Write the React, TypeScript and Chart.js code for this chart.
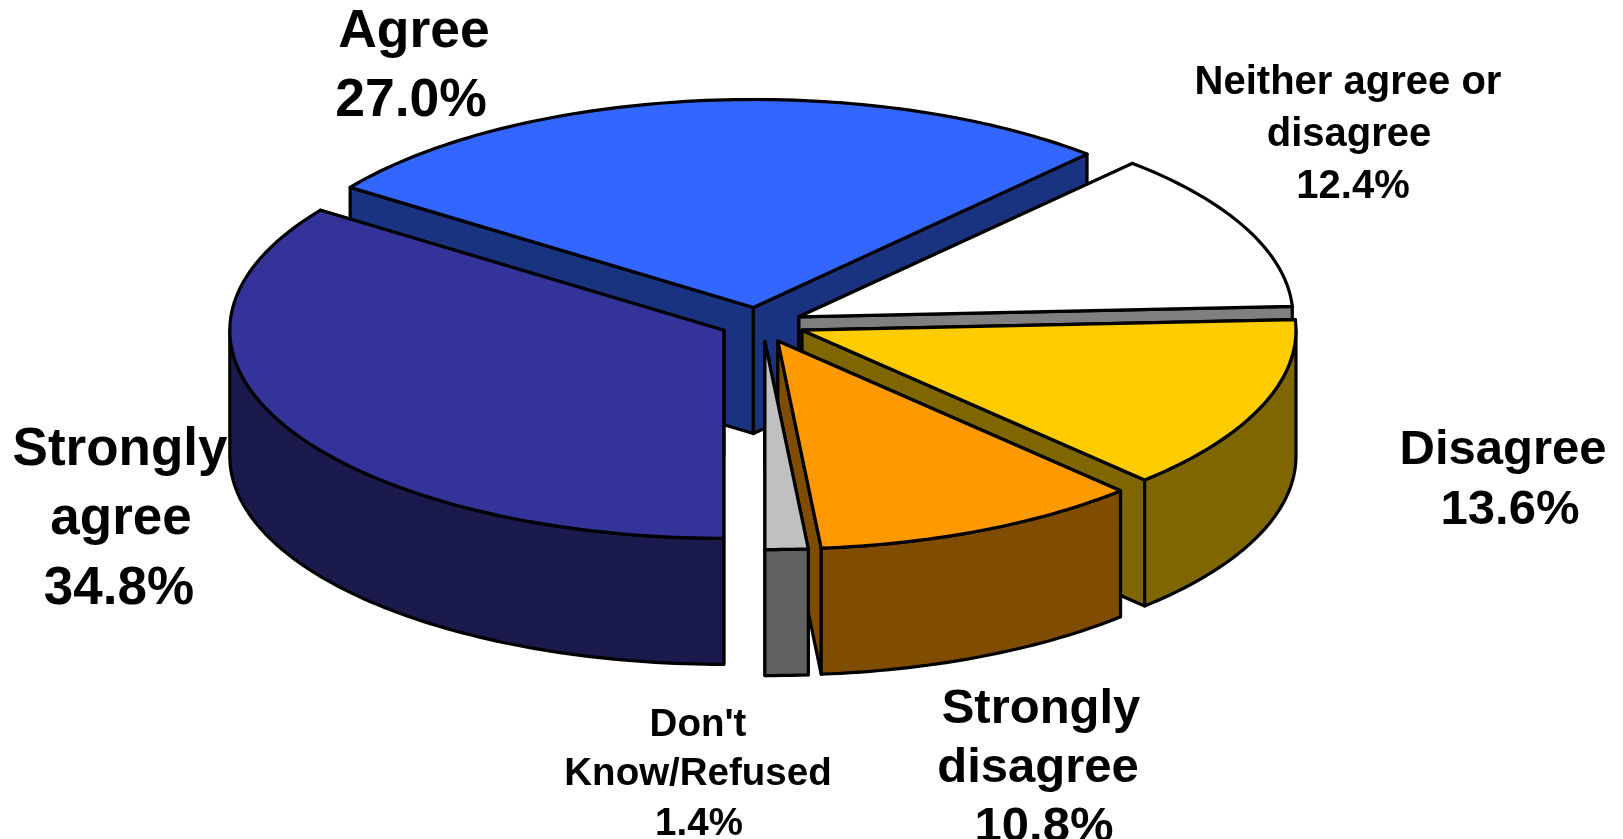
import React, { useEffect, useRef } from "react";
import { Chart, registerables } from "chart.js";

Chart.register(...registerables);

const categories = ["Strongly agree", "Agree", "Neither agree or disagree", "Disagree", "Strongly disagree", "Don't Know/Refused"];
const percentages = [34.8, 27.0, 12.4, 13.6, 10.8, 1.4];

const topColors = ["#333399", "#3366FF", "#FFFFFF", "#FFCC00", "#FF9900", "#C0C0C0"];
const sideColors = ["#1A1A4D", "#1A3380", "#808080", "#806600", "#804D00", "#606060"];

// painter's order, back to front
const paintOrder = [1, 2, 3, 4, 5, 0];

const PIE = { cx: 762, cy: 322, rx: 494, ry: 208, depth: 126, explode: 43, line: 3.2 };
// small per-slice corrections to the explosion
const nudgeX = [0, -4, -2, 0, -2, 1];
const nudgeY = [0, 3.5, 2.5, 1.5, 2.5, 1.5];

type LabelStyle = { size: number; lh: number; x: number[]; y: number; lines: string[] };
const labelStyles: LabelStyle[] = [
  { size: 53, lh: 69.5, x: [120, 121, 119], y: 450, lines: ["Strongly", "agree"] },
  { size: 53.5, lh: 69.5, x: [414, 411], y: 32, lines: ["Agree"] },
  { size: 40, lh: 52, x: [1348, 1349, 1353], y: 83, lines: ["Neither agree or", "disagree"] },
  { size: 49, lh: 60, x: [1503, 1510], y: 450, lines: ["Disagree"] },
  { size: 49, lh: 59, x: [1041, 1038, 1044], y: 709, lines: ["Strongly", "disagree"] },
  { size: 38.5, lh: 49.5, x: [698, 698, 699], y: 725, lines: ["Don't", "Know/Refused"] },
];

function rimPoints(a0: number, a1: number, tx: number, ty: number) {
  const n = Math.max(2, Math.ceil(Math.abs(a1 - a0) / 0.02));
  const pts: [number, number][] = [];
  for (let i = 0; i <= n; i++) {
    const a = a0 + ((a1 - a0) * i) / n;
    pts.push([tx + PIE.rx * Math.cos(a), ty + PIE.ry * Math.sin(a)]);
  }
  return pts;
}

function fillStroke(ctx: CanvasRenderingContext2D, pts: [number, number][], fill?: string) {
  ctx.beginPath();
  pts.forEach(([x, y], i) => (i ? ctx.lineTo(x, y) : ctx.moveTo(x, y)));
  ctx.closePath();
  if (fill) {
    ctx.fillStyle = fill;
    ctx.fill();
  }
  ctx.stroke();
}

const pie3d = {
  id: "pie3d",
  beforeDatasetDraw(chart: any) {
    const ctx: CanvasRenderingContext2D = chart.ctx;
    const arcs = chart.getDatasetMeta(0).data;
    ctx.save();
    ctx.lineWidth = PIE.line;
    ctx.lineJoin = "round";
    ctx.strokeStyle = "#000000";
    for (const i of paintOrder) {
      const arc = arcs[i];
      const { startAngle: s, endAngle: e, x, y, outerRadius: R } = arc;
      const mid = (s + e) / 2;
      const tx = PIE.cx + nudgeX[i] + PIE.explode * Math.cos(mid);
      const ty = PIE.cy + nudgeY[i] + PIE.explode * (PIE.ry / PIE.rx) * Math.sin(mid);
      const d = PIE.depth;
      const rim = rimPoints(s, e, tx, ty);
      const first = rim[0];
      const last = rim[rim.length - 1];

      // radial walls
      fillStroke(ctx, [[tx, ty], first, [first[0], first[1] + d], [tx, ty + d]], sideColors[i]);
      fillStroke(ctx, [[tx, ty], last, [last[0], last[1] + d], [tx, ty + d]], sideColors[i]);

      // outer wall (only the part facing the viewer)
      for (let k = 0; k < 3; k++) {
        const a0 = Math.max(s, 2 * Math.PI * k);
        const a1 = Math.min(e, 2 * Math.PI * k + Math.PI);
        if (a1 > a0) {
          const top = rimPoints(a0, a1, tx, ty);
          const bottom = top.map(([px, py]) => [px, py + d] as [number, number]).reverse();
          fillStroke(ctx, [...top, ...bottom], sideColors[i]);
        }
      }

      // top face: the library's own arc element, squashed into an ellipse
      ctx.save();
      ctx.translate(tx, ty);
      ctx.scale(PIE.rx / R, PIE.ry / R);
      ctx.translate(-x, -y);
      arc.draw(ctx);
      ctx.restore();
      fillStroke(ctx, [[tx, ty], ...rim]);
    }
    ctx.restore();
    return false;
  },
  afterDraw(chart: any) {
    const ctx: CanvasRenderingContext2D = chart.ctx;
    ctx.save();
    ctx.fillStyle = "#000000";
    ctx.textAlign = "center";
    ctx.textBaseline = "middle";
    labelStyles.forEach((st, i) => {
      ctx.font = `bold ${st.size}px "Liberation Sans", Arial, sans-serif`;
      const lines = [...st.lines, `${percentages[i].toFixed(1)}%`];
      lines.forEach((t, j) => ctx.fillText(t, st.x[j], st.y + j * st.lh));
    });
    ctx.restore();
  },
};

export default function App() {
  const ref = useRef<HTMLCanvasElement>(null);
  useEffect(() => {
    document.body.style.margin = "0";
    document.body.style.background = "#FFFFFF";
    const chart = new Chart(ref.current!, {
      type: "pie",
      data: {
        labels: categories,
        datasets: [{ data: percentages, backgroundColor: topColors, borderWidth: 0 }],
      },
      options: {
        responsive: false,
        animation: false,
        devicePixelRatio: 1,
        rotation: 180,
        layout: { padding: 0 },
        plugins: { legend: { display: false }, tooltip: { enabled: false } },
      },
      plugins: [pie3d],
    } as any);
    return () => chart.destroy();
  }, []);
  return <canvas ref={ref} width={1623} height={839} style={{ display: "block", position: "fixed", left: 0, top: 0 }} />;
}
